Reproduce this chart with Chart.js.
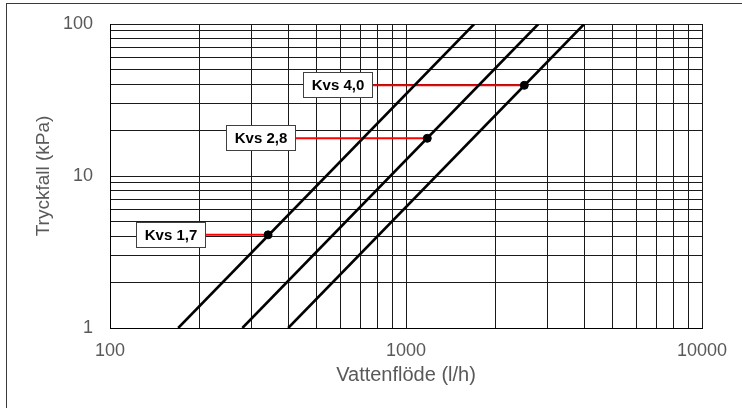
<!DOCTYPE html>
<html>
<head>
<meta charset="utf-8">
<script src="https://cdn.jsdelivr.net/npm/chart.js@4"></script>
<style>
  html, body { margin: 0; padding: 0; background: #fff; }
  #wrap { position: relative; width: 742px; height: 408px; }
</style>
</head>
<body>
<div id="wrap"><canvas id="chart" width="742" height="408"></canvas></div>
<script>
// Kvs-kurvor: flöde (l/h) mot tryckfall (kPa)
const kvsNames = ["Kvs 1,7", "Kvs 2,8", "Kvs 4,0"];
const lineStartFlow = [170, 280, 400];    // vid 1 kPa
const lineStartDp = [1, 1, 1];
const lineEndFlow = [1700, 2800, 4000];   // vid 100 kPa
const lineEndDp = [100, 100, 100];
const markFlow = [342, 1180, 2510];
const markDp = [4.1, 17.7, 39.5];
const labelEdgeFlow = [211, 425, 774];    // där den röda linjen börjar

const xTickLabels = [100, 1000, 10000];
const yTickLabels = [1, 10, 100];
const gridSteps = [1, 2, 3, 4, 5, 6, 7, 8, 9];

const textGray = "#595959";
Chart.defaults.font.family = "'Liberation Sans', Arial, sans-serif";

function logTicks(lo, hi) {
    const out = [];
    for (let d = lo; d < hi; d *= 10) gridSteps.forEach((m) => out.push(m * d));
    out.push(hi);
    return out.map((v) => ({ value: v }));
}

const datasets = [];
kvsNames.forEach((name, i) => {
    datasets.push({
        label: name + " ref",
        data: [{ x: labelEdgeFlow[i], y: markDp[i] }, { x: markFlow[i], y: markDp[i] }],
        borderColor: "#ff0000",
        borderWidth: 2,
        pointRadius: 0,
        order: 3,
    });
    datasets.push({
        label: name,
        data: [{ x: lineStartFlow[i], y: lineStartDp[i] }, { x: lineEndFlow[i], y: lineEndDp[i] }],
        borderColor: "#000",
        borderWidth: 2.6,
        pointRadius: 0,
        order: 2,
    });
    datasets.push({
        label: name + " punkt",
        data: [{ x: markFlow[i], y: markDp[i] }],
        showLine: false,
        pointRadius: 4,
        pointBackgroundColor: "#000",
        pointBorderColor: "#000",
        pointBorderWidth: 1,
        order: 1,
    });
});

// vit bakgrund + yttre ram
const frame = {
    id: "frame",
    beforeDraw(chart) {
        const ctx = chart.ctx;
        ctx.save();
        ctx.fillStyle = "#fff";
        ctx.fillRect(0, 0, chart.width, chart.height);
        ctx.strokeStyle = "#3a3a3a";
        ctx.lineWidth = 1;
        ctx.strokeRect(6.5, 3.5, 900, 600);
        ctx.restore();
    },
};

// etikettrutor
const kvsLabels = {
    id: "kvsLabels",
    afterDatasetsDraw(chart) {
        const { ctx, scales } = chart;
        ctx.save();
        ctx.font = "bold 15px 'Liberation Sans', Arial, sans-serif";
        ctx.textAlign = "center";
        ctx.textBaseline = "middle";
        kvsNames.forEach((name, i) => {
            const right = Math.round(scales.x.getPixelForValue(labelEdgeFlow[i]));
            const cy = Math.round(scales.y.getPixelForValue(markDp[i]));
            const w = 70, h = 26;
            ctx.fillStyle = "#fff";
            ctx.fillRect(right - w, cy - h / 2, w, h);
            ctx.strokeStyle = "#404040";
            ctx.lineWidth = 1;
            ctx.strokeRect(right - w + 0.5, cy - h / 2 + 0.5, w - 1, h - 1);
            ctx.fillStyle = "#000";
            ctx.fillText(name, right - w / 2, cy + 1);
        });
        ctx.restore();
    },
};

new Chart(document.getElementById("chart"), {
    type: "line",
    data: { datasets },
    plugins: [frame, kvsLabels],
    options: {
        responsive: false,
        animation: false,
        devicePixelRatio: 1,
        layout: { padding: { left: 0, right: 40, top: 24, bottom: 0 } },
        plugins: { legend: { display: false }, tooltip: { enabled: false } },
        scales: {
            x: {
                type: "logarithmic",
                min: 100,
                max: 10000,
                afterBuildTicks: (s) => { s.ticks = logTicks(100, 10000); },
                afterFit: (s) => {
                    s.height = 80;
                    s.paddingLeft = 0;
                    s.paddingRight = 0;
                },
                ticks: {
                    autoSkip: false,
                    maxRotation: 0,
                    padding: 12,
                    color: textGray,
                    font: { size: 18 },
                    callback: (v) => (xTickLabels.includes(v) ? String(v) : ""),
                },
                grid: { color: "#1a1a1a", lineWidth: 1, drawTicks: false },
                border: { color: "#000", width: 1 },
                title: {
                    display: true,
                    text: "Vattenflöde (l/h)",
                    color: textGray,
                    font: { size: 20 },
                    padding: { top: 0, bottom: 21 },
                },
            },
            y: {
                type: "logarithmic",
                min: 1,
                max: 100,
                afterBuildTicks: (s) => { s.ticks = logTicks(1, 100); },
                afterFit: (s) => {
                    s.width = 110;
                    s.paddingTop = 0;
                    s.paddingBottom = 0;
                },
                ticks: {
                    autoSkip: false,
                    padding: 17,
                    color: textGray,
                    font: { size: 18 },
                    callback: (v) => (yTickLabels.includes(v) ? String(v) : ""),
                },
                grid: { color: "#1a1a1a", lineWidth: 1, drawTicks: false },
                border: { color: "#000", width: 1 },
                title: {
                    display: true,
                    text: "Tryckfall (kPa)",
                    color: textGray,
                    font: { size: 19 },
                    padding: { top: 32, bottom: 0 },
                },
            },
        },
    },
});
</script>
</body>
</html>
